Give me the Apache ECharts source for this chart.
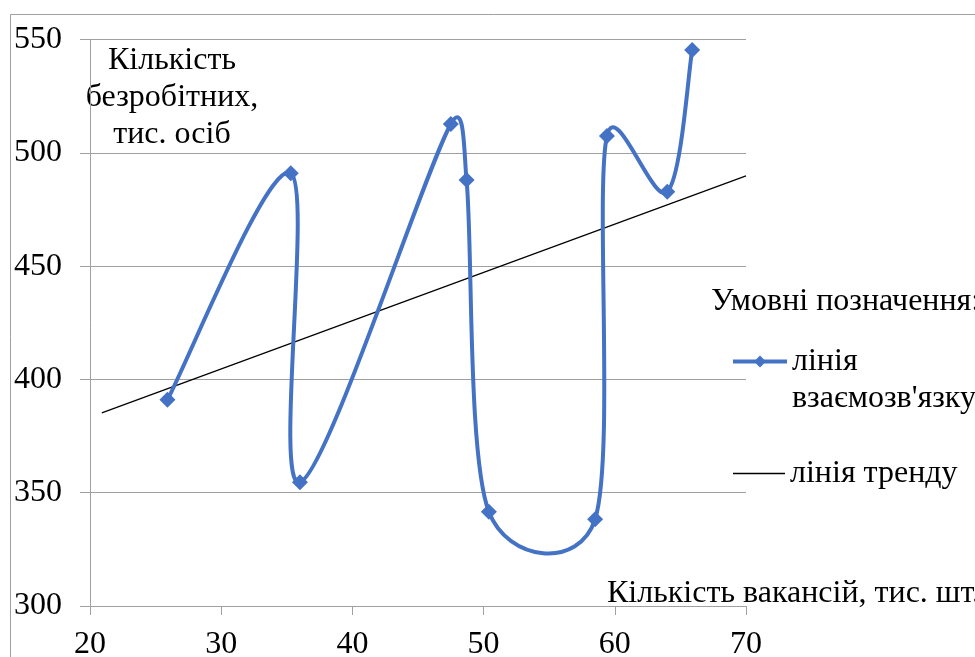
<!DOCTYPE html>
<html>
<head>
<meta charset="utf-8">
<script src="https://cdn.jsdelivr.net/npm/echarts@6/dist/echarts.min.js"></script>
<style>
html,body{margin:0;padding:0;background:#fff;}
#chart{width:975px;height:657px;}
</style>
</head>
<body>
<div id="chart"></div>
<script>
// Data
const vacancies = [25.9, 35.3, 36.0, 47.5, 48.7, 50.4, 58.5, 59.4, 64.0, 65.9];
const unemployed = [391, 491, 354.6, 512.7, 488, 341.6, 338.3, 507.4, 482.8, 545.4];
const trendX = [20.9, 70];
const trendY = [385.2, 489.8];
const xTicks = [20, 30, 40, 50, 60, 70];
const yTicks = [300, 350, 400, 450, 500, 550];
const seriesNames = ["лінія взаємозв'язку", "лінія тренду"];
const legendTitle = "Умовні позначення:";
const xTitle = "Кількість вакансій, тис. шт.";
const yTitle = "Кількість\nбезробітних,\nтис. осіб";

const FONT = "'Liberation Serif', 'Times New Roman', serif";
const BLUE = '#4472C4';
const chart = echarts.init(document.getElementById('chart'));
const pairs = (xs, ys) => xs.map((x, i) => [x, ys[i]]);

// Spreadsheet-style smoothed connector: one cubic Bezier per pair of consecutive
// points, positioned through the cartesian coordinate system (api.coord).
// Tangent = (next - prev) / 6, capped at half of the segment length.
function smoothSegment(params, api) {
  const i = params.dataIndex;
  const n = vacancies.length;
  if (i >= n - 1) return null;
  const P = j => api.coord([vacancies[j], unemployed[j]]);
  const p0 = P(i), p1 = P(i + 1);
  const prev = i > 0 ? P(i - 1) : p0;
  const next = i + 2 < n ? P(i + 2) : p1;
  const dist = (a, b) => Math.hypot(b[0] - a[0], b[1] - a[1]);
  const d = dist(p0, p1);
  const tan = (a, b) => {
    const l = dist(a, b) || 1;
    const m = Math.min(l / 6, d / 2);
    return [(b[0] - a[0]) / l * m, (b[1] - a[1]) / l * m];
  };
  const t0 = tan(prev, p1), t1 = tan(p0, next);
  return {
    type: 'bezierCurve',
    silent: true,
    shape: {
      x1: p0[0], y1: p0[1], x2: p1[0], y2: p1[1],
      cpx1: p0[0] + t0[0], cpy1: p0[1] + t0[1],
      cpx2: p1[0] - t1[0], cpy2: p1[1] - t1[1]
    },
    style: { stroke: BLUE, lineWidth: 4, fill: null, lineCap: 'round' }
  };
}

chart.setOption({
  animation: false,
  backgroundColor: '#fff',
  textStyle: { fontFamily: FONT },
  grid: { left: 90, right: 229, top: 39.5, bottom: 51, containLabel: false, outerBoundsMode: 'none' },
  xAxis: {
    type: 'value',
    min: xTicks[0], max: xTicks[xTicks.length - 1], interval: 10,
    name: xTitle,
    nameLocation: 'end',
    nameGap: -139,
    nameMoveOverlap: false,
    nameTextStyle: { fontFamily: FONT, fontSize: 32, color: '#000', align: 'left', verticalAlign: 'bottom', lineHeight: 24 },
    axisLine: { show: true, lineStyle: { color: '#a0a0a0', width: 1 } },
    axisTick: { show: true, length: 9, lineStyle: { color: '#a0a0a0' } },
    axisLabel: { fontFamily: FONT, fontSize: 32, color: '#000', margin: 23 },
    splitLine: { show: false }
  },
  yAxis: {
    type: 'value',
    min: yTicks[0], max: yTicks[yTicks.length - 1], interval: 50,
    name: yTitle,
    nameLocation: 'end',
    nameGap: -3,
    nameMoveOverlap: false,
    nameTextStyle: { fontFamily: FONT, fontSize: 32, color: '#000', align: 'center', verticalAlign: 'top', lineHeight: 37, padding: [0, 0, 0, 164] },
    axisLine: { show: true, lineStyle: { color: '#a0a0a0', width: 1 } },
    axisTick: { show: true, length: 10, lineStyle: { color: '#a0a0a0' } },
    axisLabel: { fontFamily: FONT, fontSize: 32, color: '#000', margin: 28 },
    splitLine: { show: true, lineStyle: { color: '#a0a0a0', width: 1 } }
  },
  legend: [
    {
      data: [{ name: seriesNames[0], lineStyle: { width: 4, opacity: 1, color: BLUE } }],
      left: 731, top: 306, padding: 0,
      itemWidth: 54, itemHeight: 15,
      formatter: n => '\n' + n.replace(' ', '\n'),
      textStyle: { fontFamily: FONT, fontSize: 32, color: '#000', lineHeight: 37 }
    },
    {
      data: [{ name: seriesNames[1], icon: 'rect', itemStyle: { color: '#000' } }],
      left: 733, top: 455, padding: 0,
      itemWidth: 52, itemHeight: 1.3,
      textStyle: { fontFamily: FONT, fontSize: 32, color: '#000', lineHeight: 37 }
    }
  ],
  graphic: [
    { type: 'rect', silent: true, z: -10, shape: { x: 10.5, y: 14.5, width: 1000, height: 700 }, style: { fill: 'none', stroke: '#a0a0a0', lineWidth: 1 } },
    { type: 'text', silent: true, style: { text: legendTitle, x: 711, y: 302, font: "32px 'Liberation Serif'", fill: '#000', verticalAlign: 'middle', align: 'left' } }
  ],
  series: [
    {
      name: seriesNames[0],
      type: 'line',
      data: pairs(vacancies, unemployed),
      symbol: 'diamond',
      symbolSize: 16,
      showSymbol: true,
      itemStyle: { color: BLUE },
      lineStyle: { color: BLUE, width: 0, opacity: 0 },
      z: 4
    },
    {
      name: seriesNames[0],
      type: 'custom',
      coordinateSystem: 'cartesian2d',
      data: pairs(vacancies, unemployed),
      encode: { x: 0, y: 1 },
      renderItem: smoothSegment,
      silent: true,
      z: 3
    },
    {
      name: seriesNames[1],
      type: 'line',
      data: pairs(trendX, trendY),
      symbol: 'none',
      itemStyle: { color: '#000' },
      lineStyle: { color: '#000', width: 1.2 },
      z: 2
    }
  ]
});
</script>
</body>
</html>
